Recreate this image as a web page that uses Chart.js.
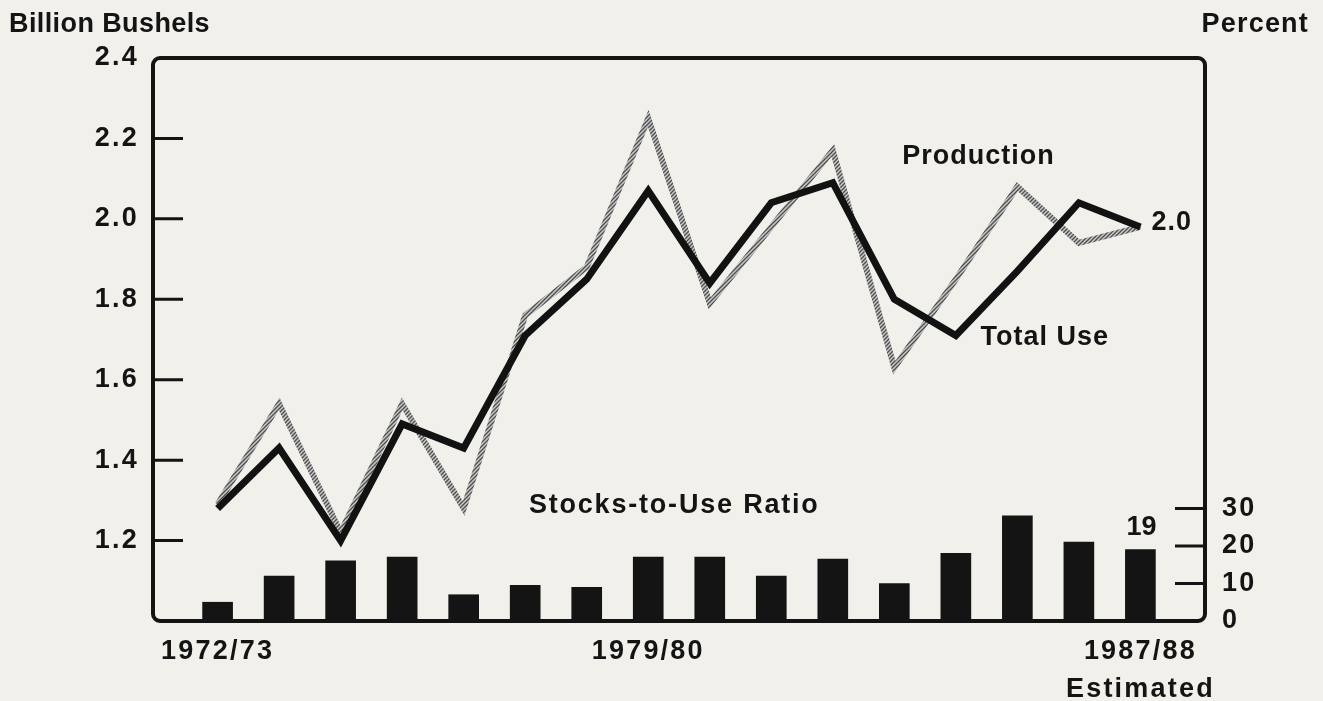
<!DOCTYPE html>
<html>
<head>
<meta charset="utf-8">
<script src="https://cdn.jsdelivr.net/npm/chart.js@4.4.1/dist/chart.umd.min.js"></script>
<style>
  html, body { margin: 0; padding: 0; background: #f2f0ea; }
  canvas { display: block; }
</style>
</head>
<body>
<canvas id="wheatChart" width="1323" height="701"></canvas>
<script>
// wheat supply & use, 1972/73 - 1987/88 (last year estimated)
const years = [
  "1972/73", "1973/74", "1974/75", "1975/76", "1976/77", "1977/78", "1978/79", "1979/80",
  "1980/81", "1981/82", "1982/83", "1983/84", "1984/85", "1985/86", "1986/87", "1987/88",
];
const production = [1.29, 1.54, 1.22, 1.54, 1.28, 1.76, 1.88, 2.25, 1.79, 1.98, 2.17, 1.63, 1.85, 2.08, 1.94, 1.98];
const totalUse = [1.28, 1.43, 1.2, 1.49, 1.43, 1.71, 1.85, 2.07, 1.84, 2.04, 2.09, 1.8, 1.71, 1.87, 2.04, 1.98];
const stocksToUse = [5, 12, 16, 17, 7, 9.5, 9, 17, 17, 12, 16.5, 10, 18, 28, 21, 19];

const bushelTicks = [1.2, 1.4, 1.6, 1.8, 2.0, 2.2, 2.4];
const percentTicks = [0, 10, 20, 30];
const yearTicks = [0, 7, 15];

const INK = "#141414";
const FONT = '"Liberation Sans", Arial, Helvetica, sans-serif';

// hatched grey stroke for the production line
function hatch() {
  const c = document.createElement("canvas");
  c.width = 4; c.height = 4;
  const g = c.getContext("2d");
  g.fillStyle = "#c8c8c8";
  g.fillRect(0, 0, 4, 4);
  g.strokeStyle = "#4e4e4e";
  g.lineWidth = 1.3;
  g.beginPath();
  g.moveTo(0, 4); g.lineTo(4, 0);
  g.moveTo(-1, 1); g.lineTo(1, -1);
  g.moveTo(3, 5); g.lineTo(5, 3);
  g.stroke();
  return g.createPattern(c, "repeat");
}

const labels = [
  { text: "Production", x: 11.13, y: 2.154, spacing: 1 },
  { text: "Total Use", x: 12.4, y: 1.706, spacing: 1 },
  { text: "Stocks-to-Use Ratio", x: 5.06, y: 1.286, spacing: 1.8 },
];

const framePlugin = {
  id: "frame",
  beforeDraw(chart) {
    const { ctx, width, height } = chart;
    ctx.save();
    ctx.fillStyle = "#f2f0ea";
    ctx.fillRect(0, 0, width, height);
    ctx.restore();
    ctx.letterSpacing = "2.2px";
  },
  afterDraw(chart) {
    const { ctx, chartArea: a, scales } = chart;
    ctx.save();
    ctx.letterSpacing = "0px";
    ctx.strokeStyle = INK;
    ctx.lineWidth = 4;
    ctx.beginPath();
    ctx.roundRect(a.left, a.top, a.right - a.left, a.bottom - a.top, 7);
    ctx.stroke();

    ctx.lineWidth = 3;
    ctx.beginPath();
    bushelTicks.filter(v => v < 2.4).forEach(v => {
      const y = scales.y.getPixelForValue(v);
      ctx.moveTo(a.left, y);
      ctx.lineTo(a.left + 30, y);
    });
    percentTicks.filter(v => v > 0).forEach(v => {
      const y = scales.y2.getPixelForValue(v);
      ctx.moveTo(a.right, y);
      ctx.lineTo(a.right - 30, y);
    });
    ctx.stroke();

    ctx.fillStyle = INK;
    ctx.font = `bold 27px ${FONT}`;
    ctx.textBaseline = "middle";

    ctx.letterSpacing = "0.4px";
    ctx.textAlign = "left";
    ctx.fillText("Billion Bushels", 9, 25);
    ctx.letterSpacing = "1.2px";
    ctx.textAlign = "right";
    ctx.fillText("Percent", 1309, 25);

    ctx.textAlign = "left";
    labels.forEach(l => {
      ctx.letterSpacing = l.spacing + "px";
      ctx.fillText(l.text, scales.x.getPixelForValue(l.x), scales.y.getPixelForValue(l.y));
    });

    // end-point values
    const last = years.length - 1;
    ctx.letterSpacing = "1px";
    ctx.fillText(
      totalUse[last].toFixed(1),
      scales.x.getPixelForValue(last) + 11,
      scales.y.getPixelForValue(totalUse[last]) - 4
    );
    ctx.textAlign = "center";
    ctx.letterSpacing = "0px";
    ctx.fillText(
      String(stocksToUse[last]),
      scales.x.getPixelForValue(last) + 1,
      scales.y2.getPixelForValue(stocksToUse[last]) - 22
    );
    ctx.restore();
  },
};

const ctx = document.getElementById("wheatChart");
new Chart(ctx, {
  data: {
    datasets: [
      {
        type: "line",
        label: "Total Use",
        data: totalUse.map((v, i) => ({ x: i, y: v })),
        borderColor: "#121212",
        borderWidth: 7,
        borderJoinStyle: "miter",
        pointRadius: 0,
        tension: 0,
        yAxisID: "y",
        order: 0,
      },
      {
        type: "line",
        label: "Production",
        data: production.map((v, i) => ({ x: i, y: v })),
        borderColor: hatch(),
        borderWidth: 6,
        borderJoinStyle: "miter",
        pointRadius: 0,
        tension: 0,
        yAxisID: "y",
        order: 1,
      },
      {
        type: "bar",
        label: "Stocks-to-Use Ratio",
        data: stocksToUse.map((v, i) => ({ x: i, y: v })),
        backgroundColor: "#141414",
        barThickness: 30,
        yAxisID: "y2",
        order: 2,
      },
    ],
  },
  options: {
    responsive: false,
    animation: false,
    events: [],
    layout: { padding: { top: 58, left: 0, right: 0, bottom: 0 } },
    plugins: { legend: { display: false }, tooltip: { enabled: false } },
    scales: {
      x: {
        type: "linear",
        offset: false,
        min: -1.05,
        max: 16.05,
        grid: { display: false, drawTicks: false, offset: false },
        border: { display: false },
        afterBuildTicks: s => { s.ticks = yearTicks.map(v => ({ value: v })); },
        afterFit: s => { s.height = 80; },
        ticks: {
          autoSkip: false,
          maxRotation: 0,
          padding: 12,
          color: INK,
          font: { family: FONT, size: 27, weight: "bold", lineHeight: 1.4 },
          callback: v => (v === years.length - 1 ? [years[v], "Estimated"] : years[v]),
        },
      },
      y: {
        position: "left",
        min: 1.0,
        max: 2.4,
        grid: { display: false, drawTicks: false },
        border: { display: false },
        afterBuildTicks: s => { s.ticks = bushelTicks.map(v => ({ value: v })); },
        afterFit: s => { s.width = 153; },
        ticks: {
          padding: 14,
          color: INK,
          font: { family: FONT, size: 27, weight: "bold" },
          callback: v => v.toFixed(1),
        },
      },
      y2: {
        position: "right",
        min: 0,
        max: 150,
        grid: { display: false, drawTicks: false },
        border: { display: false },
        afterBuildTicks: s => { s.ticks = percentTicks.map(v => ({ value: v })); },
        afterFit: s => { s.width = 118; },
        ticks: {
          padding: 17,
          color: INK,
          font: { family: FONT, size: 27, weight: "bold" },
        },
      },
    },
  },
  plugins: [framePlugin],
});
</script>
</body>
</html>
